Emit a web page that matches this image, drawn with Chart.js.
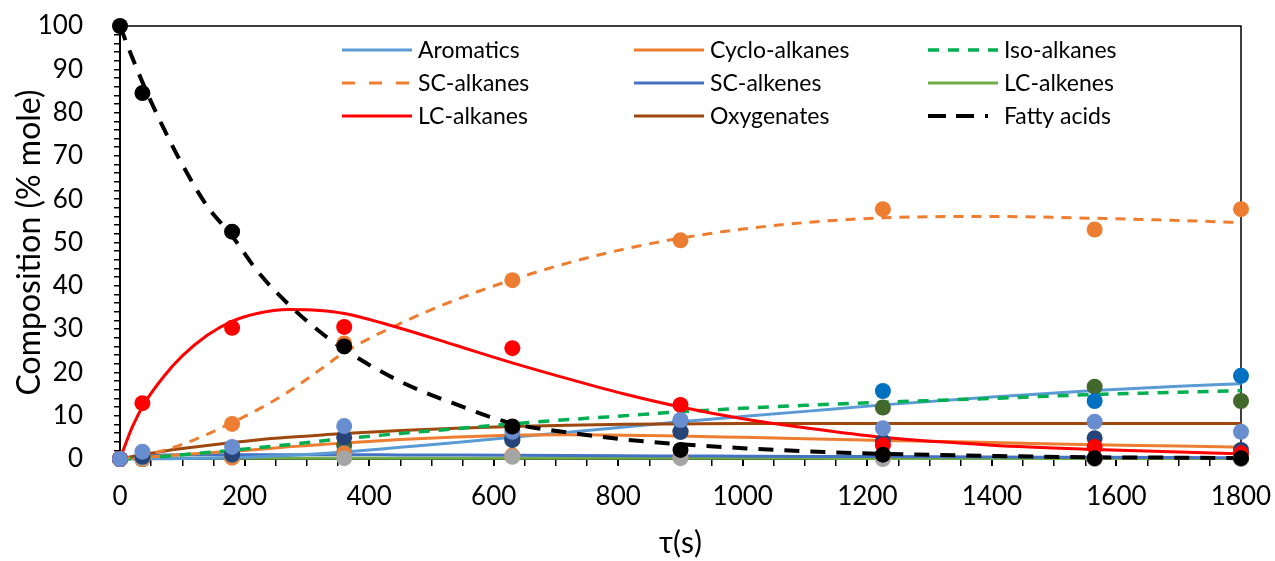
<!DOCTYPE html>
<html>
<head>
<meta charset="utf-8">
<script src="https://cdn.jsdelivr.net/npm/chart.js@4.4.0/dist/chart.umd.min.js"></script>
<style>
    html, body { margin: 0; padding: 0; background: #fff; }
</style>
</head>
<body>
<canvas id="graficoComposicao" width="1275" height="561"></canvas>
<script>
// tempos do modelo (curvas) e dos pontos experimentais
const tempoModelo = [0, 20, 40, 70, 100, 140, 180, 220, 270, 320, 360, 450, 540, 630, 720, 810, 900, 1000, 1100, 1225, 1400, 1565, 1700, 1800]
const tempoExp = [0, 36, 180, 360, 630, 900, 1225, 1565, 1800]

// curvas (modelo)
const aromaticos = [0, 0, 0, 0.05, 0.1, 0.2, 0.3, 0.5, 0.8, 1.2, 1.6, 2.7, 3.8, 5, 6.2, 7.4, 8.6, 9.8, 11, 12.5, 14.3, 15.8, 16.8, 17.4]
const cicloAlcanos = [0, 0.2, 0.4, 0.7, 1, 1.4, 1.8, 2.2, 2.8, 3.3, 3.7, 4.5, 5.1, 5.5, 5.6, 5.5, 5.3, 5, 4.7, 4.3, 3.8, 3.3, 3, 2.7]
const isoAlcanos = [0, 0.1, 0.3, 0.6, 1, 1.5, 2, 2.6, 3.3, 4.1, 4.7, 5.9, 7, 8.1, 9.1, 10, 10.9, 11.7, 12.4, 13.1, 14, 14.9, 15.4, 15.8]
const scAlcanos = [0, 0.4, 0.9, 2, 3.4, 5.7, 8.4, 11.3, 15.5, 20.5, 24.6, 31.3, 36.8, 41.4, 45.3, 48.5, 51, 53.1, 54.6, 55.7, 56, 55.6, 55.1, 54.6]
const scAlcenos = [0, 0.4, 0.7, 0.9, 1, 1, 1, 1, 1, 1, 1, 0.95, 0.9, 0.85, 0.8, 0.75, 0.7, 0.65, 0.6, 0.55, 0.45, 0.4, 0.35, 0.3]
const lcAlcenos = [0, 0.1, 0.15, 0.2, 0.2, 0.2, 0.2, 0.2, 0.2, 0.2, 0.2, 0.2, 0.2, 0.2, 0.2, 0.2, 0.15, 0.15, 0.15, 0.1, 0.1, 0.1, 0.1, 0.1]
const lcAlcanos = [0, 7.5, 13, 19, 23.8, 28.6, 31.8, 33.6, 34.5, 34.3, 33.6, 30.2, 26.2, 22.2, 18.5, 15, 12, 9.3, 7.2, 5, 3.2, 2.2, 1.6, 1.2]
const oxigenados = [0, 0.6, 1.1, 1.8, 2.4, 3.1, 3.8, 4.4, 5, 5.5, 5.9, 6.6, 7.1, 7.5, 7.8, 8, 8.1, 8.2, 8.2, 8.2, 8.2, 8.2, 8.2, 8.2]
const acidosGraxos = [100, 92.6, 85.7, 76.4, 68, 58.4, 51.5, 43.5, 35.8, 29.5, 25.3, 17.9, 12.6, 8.2, 6.1, 4.5, 3.4, 2.5, 1.8, 1.2, 0.7, 0.4, 0.3, 0.2]

// pontos experimentais
const ptsAcidos = [100, 84.5, 52.5, 26, 7.5, 2.1, 1.0, 0.2, 0.2]
const ptsOxigenados = [0, 1.7, 2.8, 7.6, 6.3, 9.0, 7.1, 8.6, 6.3]
const ptsLcAlcanos = [0, 12.9, 30.3, 30.5, 25.6, 12.5, 3.2, 2.8, 1.3]
const ptsCiclo = [0, 0.5, 1, 5, 4.4, 6.3, 4.0, 4.8, 2.1]
const ptsAlcenos = [0, 0.2, 0.9, 0.2, 0.5, 0.2, 0, 0, 0]
const ptsLaranja = [0, 0, 0.3, 1.3, 0.8, 0.5, 0.3, 0.2, 0.1]
const ptsScAlcanos = [0, 0, 8.1, 26.7, 41.3, 50.5, 57.7, 53, 57.7]
const ptsAromaticos = [0, 0, 0.5, 1.5, 5, 8.8, 15.7, 13.4, 19.2]
const ptsIso = [0, 0, 1, 3.2, 4.4, 6.3, 11.9, 16.7, 13.4]

const fonte = 'Lato'

function montarPontos(xs, ys) {
    let pontos = []
    for (let i = 0; i < xs.length; i++) {
        pontos.push({ x: xs[i], y: ys[i] })
    }
    return pontos
}

function serieLinha(nome, valores, cor, traco, largura, ordem, tracoLegenda) {
    return {
        label: nome,
        data: montarPontos(tempoModelo, valores),
        showLine: true,
        borderColor: cor,
        backgroundColor: cor,
        borderWidth: largura,
        borderDash: traco,
        pointRadius: 0,
        cubicInterpolationMode: 'monotone',
        clip: false,
        order: ordem,
        legenda: true,
        tracoLegenda: tracoLegenda || traco
    }
}

function seriePontos(valores, cor, ordem) {
    return {
        label: '',
        data: montarPontos(tempoExp, valores),
        showLine: false,
        backgroundColor: cor,
        borderColor: cor,
        borderWidth: 0,
        pointRadius: 8,
        clip: false,
        order: ordem
    }
}

// legenda em 3 colunas dentro da area do grafico
const legendaGrade = {
    id: 'legendaGrade',
    afterDraw(chart) {
        const ctx = chart.ctx
        const colX = [342, 634, 928]
        const linhaY = [50, 83, 116]
        const series = chart.data.datasets.filter(d => d.legenda)
        ctx.save()
        series.forEach((d, i) => {
            const x = colX[i % 3]
            const y = linhaY[Math.floor(i / 3)]
            ctx.beginPath()
            ctx.strokeStyle = d.borderColor
            ctx.lineWidth = d.borderWidth
            ctx.setLineDash(d.tracoLegenda || [])
            ctx.moveTo(x, y)
            ctx.lineTo(x + 70, y)
            ctx.stroke()
            ctx.setLineDash([])
            ctx.fillStyle = '#000'
            ctx.font = `23px ${fonte}`
            ctx.textBaseline = 'middle'
            ctx.fillText(d.label, x + 76, y + 1)
        })
        ctx.restore()
    }
}

// bordas de cima e da direita da area do grafico
const bordaArea = {
    id: 'bordaArea',
    beforeDatasetsDraw(chart) {
        const a = chart.chartArea
        const ctx = chart.ctx
        ctx.save()
        ctx.strokeStyle = '#000'
        ctx.lineWidth = 1.5
        ctx.beginPath()
        ctx.moveTo(a.left, a.top)
        ctx.lineTo(a.right, a.top)
        ctx.lineTo(a.right, a.bottom)
        ctx.stroke()
        ctx.restore()
    }
}

const datasets = [
    seriePontos(ptsAcidos, '#000000', 0),
    seriePontos(ptsOxigenados, '#698ED0', 1),
    seriePontos(ptsLcAlcanos, '#FF0000', 2),
    seriePontos(ptsCiclo, '#264478', 3),
    seriePontos(ptsAlcenos, '#A5A5A5', 4),
    seriePontos(ptsLaranja, '#ED7D31', 5),
    seriePontos(ptsScAlcanos, '#ED7D31', 6),
    seriePontos(ptsAromaticos, '#0070C0', 7),
    seriePontos(ptsIso, '#43682B', 8),

    serieLinha('Aromatics', aromaticos, '#5B9BD5', [], 3, 16),
    serieLinha('Cyclo-alkanes', cicloAlcanos, '#ED7D31', [], 3, 15),
    serieLinha('Iso-alkanes', isoAlcanos, '#00B050', [11, 9], 3.5, 13),
    serieLinha('SC-alkanes', scAlcanos, '#ED7D31', [10, 8], 3, 12, [13, 14]),
    serieLinha('SC-alkenes', scAlcenos, '#4472C4', [], 3, 17),
    serieLinha('LC-alkenes', lcAlcenos, '#70AD47', [], 3, 18),
    serieLinha('LC-alkanes', lcAlcanos, '#FF0000', [], 3, 11),
    serieLinha('Oxygenates', oxigenados, '#9E480E', [], 3, 14),
    serieLinha('Fatty acids', acidosGraxos, '#000000', [15, 11], 4, 10, [18, 10, 18, 11, 3, 20])
]

new Chart(document.getElementById('graficoComposicao'), {
    type: 'scatter',
    data: { datasets: datasets },
    plugins: [bordaArea, legendaGrade],
    options: {
        responsive: false,
        animation: false,
        events: [],
        layout: {
            padding: { left: 0, right: 34, top: 26, bottom: 0 }
        },
        plugins: {
            legend: { display: false },
            tooltip: { enabled: false }
        },
        scales: {
            x: {
                type: 'linear',
                min: 0,
                max: 1800,
                afterFit: function (scale) {
                    scale.height = 102
                    scale.paddingLeft = 0
                    scale.paddingRight = 0
                },
                ticks: {
                    stepSize: 50,
                    autoSkip: false,
                    maxRotation: 0,
                    padding: 15,
                    color: '#000',
                    font: { family: fonte, size: 26 },
                    callback: v => (v % 200 === 0 ? v : '')
                },
                grid: {
                    drawOnChartArea: false,
                    drawTicks: true,
                    tickLength: 7,
                    color: '#000',
                    lineWidth: ctx => (ctx.tick && ctx.tick.value % 200 === 0 ? 2 : 1.5)
                },
                border: { color: '#000', width: 2 },
                title: {
                    display: true,
                    text: 'τ(s)',
                    color: '#000',
                    font: { family: fonte, size: 30 },
                    padding: { top: 0, bottom: 0 }
                }
            },
            y: {
                min: 0,
                max: 100,
                afterFit: function (scale) {
                    scale.width = 120
                    scale.paddingTop = 0
                    scale.paddingBottom = 0
                },
                ticks: {
                    stepSize: 2,
                    autoSkip: false,
                    padding: 31,
                    color: '#000',
                    font: { family: fonte, size: 26 },
                    callback: v => (v % 10 === 0 ? v : '')
                },
                grid: {
                    drawOnChartArea: false,
                    drawTicks: true,
                    tickLength: 6,
                    color: '#000',
                    lineWidth: 1.5
                },
                border: { color: '#000', width: 2 },
                title: {
                    display: true,
                    text: 'Composition (% mole)',
                    color: '#000',
                    font: { family: fonte, size: 32 },
                    padding: { top: 10, bottom: 0 }
                }
            }
        }
    }
})
</script>
</body>
</html>
